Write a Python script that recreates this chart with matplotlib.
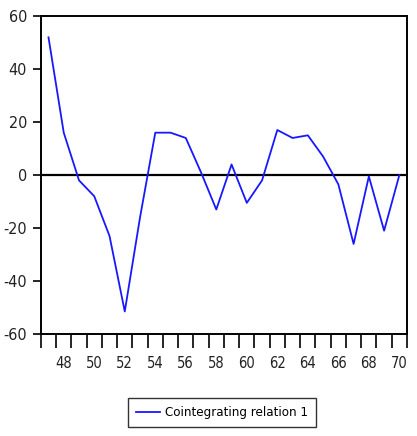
import numpy as np
import matplotlib.pyplot as plt

# annual data, 1947-1970 (labels show two digit years)
years = list(range(47, 71))
relation = [52, 16, -2, -8, -23, -51.5, -16, 16, 16, 14, 1, -13,
            4, -10.5, -2, 17, 14, 15, 7, -3.5, -26, -0.5, -21, 0]
label_years = list(range(48, 71, 2))
y_ticks = [-60, -40, -20, 0, 20, 40, 60]

plt.rcParams['font.family'] = ['DejaVu Sans']
plt.rcParams['font.stretch'] = 'condensed'

fig = plt.figure(figsize=(4.17, 4.36), dpi=100)
ax = fig.add_axes([0.098, 0.234, 0.878, 0.729])

ax.plot(years, relation, color='#1818ff', lw=1.3, label='Cointegrating relation 1')
ax.axhline(0, color='black', lw=1.6, zorder=1)

ax.set_xlim(46.5, 70.5)
ax.set_ylim(-60, 60)
ax.set_yticks(y_ticks)
ax.set_yticklabels([str(v) for v in y_ticks], fontsize=11.5, color='#222222')

# ticks on year boundaries, labels centred on the years
ax.set_xticks(np.arange(46.5, 71, 1.0))
ax.set_xticklabels([])
ax.set_xticks(label_years, minor=True)
ax.set_xticklabels([str(v) for v in label_years], minor=True, fontsize=10.5, color='#222222')
ax.tick_params(axis='x', which='major', direction='out', length=10, width=1.2)
ax.tick_params(axis='x', which='minor', length=0, pad=16)
ax.tick_params(axis='y', direction='out', length=6, width=1.2, pad=4)

for s in ax.spines.values():
    s.set_linewidth(1.4)

lg = fig.legend(loc='center', bbox_to_anchor=(0.533, 0.053), fontsize=9.5,
                frameon=True, fancybox=False, edgecolor='black',
                handlelength=1.8, borderpad=0.6, handletextpad=0.4)
lg.get_frame().set_linewidth(1.0)

fig.savefig('out.png', dpi=100)
